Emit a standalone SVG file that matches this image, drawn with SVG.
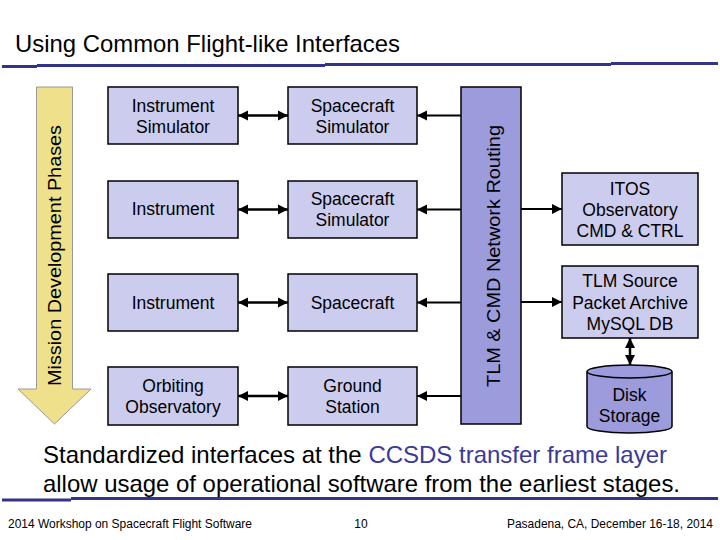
<svg xmlns="http://www.w3.org/2000/svg" width="720" height="540" viewBox="0 0 720 540">
<defs>
<style>
.t{font-family:"Liberation Sans",Arial,sans-serif;fill:#000}
.nt{font-size:17.5px;text-anchor:middle}
.box{fill:#CCCCEE;stroke:#000;stroke-width:1.5}
.dark{fill:#9C9CDD;stroke:#000;stroke-width:1.5}
.rule{fill:none;stroke:#333388;stroke-width:3}
.dbl{stroke:#000;stroke-width:2.5;fill:none;marker-start:url(#ah);marker-end:url(#ah)}
.one{stroke:#000;stroke-width:2;fill:none;marker-end:url(#ah)}
</style>
<marker id="ah" viewBox="0 0 10 10" refX="10" refY="5" markerWidth="10" markerHeight="11" markerUnits="userSpaceOnUse" orient="auto-start-reverse">
<path d="M0,0 L10,5 L0,10 Z" fill="#000"/>
</marker>
</defs>
<rect width="720" height="540" fill="#fff"/>

<g id="title">
<text class="t" x="15" y="52" font-size="24" textLength="385" lengthAdjust="spacingAndGlyphs">Using Common Flight-like Interfaces</text>
<path class="rule" d="M2,66.5 H37 M37,65.5 H325 M325,64.5 H611 M611,63.5 H718"/>
</g>

<g id="phases">
<path d="M36.5,87 L72.5,87 L72.5,389 L91,389 L54.5,424 L18,389 L36.5,389 Z" fill="#EFE08C" stroke="#999" stroke-width="1"/>
<text class="t" transform="translate(61,255.5) rotate(-90)" font-size="18" text-anchor="middle" textLength="261" lengthAdjust="spacingAndGlyphs">Mission Development Phases</text>
</g>

<g id="connectors">
<line class="dbl" x1="238" y1="115.5" x2="288" y2="115.5"/>
<line class="dbl" x1="238" y1="209.5" x2="288" y2="209.5"/>
<line class="dbl" x1="238" y1="302.5" x2="288" y2="302.5"/>
<line class="dbl" x1="238" y1="396" x2="288" y2="396"/>
<line class="one" x1="461" y1="115.5" x2="417" y2="115.5"/>
<line class="one" x1="461" y1="209.5" x2="417" y2="209.5"/>
<line class="one" x1="461" y1="302.5" x2="417" y2="302.5"/>
<line class="one" x1="461" y1="396" x2="417" y2="396"/>
<line class="one" x1="521" y1="209" x2="562" y2="209"/>
<line class="one" x1="521" y1="302" x2="562" y2="302"/>
<line class="dbl" x1="630" y1="338" x2="630" y2="365"/>
</g>

<g id="instrument-simulator">
<rect class="box" x="108" y="87" width="130" height="57"/>
<text class="t nt" x="173" y="112">Instrument</text>
<text class="t nt" x="173" y="133">Simulator</text>
</g>
<g id="spacecraft-simulator-1">
<rect class="box" x="288" y="87" width="129" height="57"/>
<text class="t nt" x="352.5" y="112">Spacecraft</text>
<text class="t nt" x="352.5" y="133">Simulator</text>
</g>
<g id="instrument-1">
<rect class="box" x="108" y="181" width="130" height="57"/>
<text class="t nt" x="173" y="215">Instrument</text>
</g>
<g id="spacecraft-simulator-2">
<rect class="box" x="288" y="181" width="129" height="57"/>
<text class="t nt" x="352.5" y="205">Spacecraft</text>
<text class="t nt" x="352.5" y="226">Simulator</text>
</g>
<g id="instrument-2">
<rect class="box" x="108" y="274" width="130" height="57"/>
<text class="t nt" x="173" y="309">Instrument</text>
</g>
<g id="spacecraft">
<rect class="box" x="288" y="274" width="129" height="57"/>
<text class="t nt" x="352.5" y="309">Spacecraft</text>
</g>
<g id="orbiting-observatory">
<rect class="box" x="108" y="367" width="130" height="58"/>
<text class="t nt" x="173" y="392">Orbiting</text>
<text class="t nt" x="173" y="413">Observatory</text>
</g>
<g id="ground-station">
<rect class="box" x="288" y="367" width="129" height="58"/>
<text class="t nt" x="352.5" y="392">Ground</text>
<text class="t nt" x="352.5" y="413">Station</text>
</g>

<g id="network-routing">
<rect class="dark" x="461" y="87" width="60" height="337"/>
<text class="t" transform="translate(500,256) rotate(-90)" font-size="18" text-anchor="middle" textLength="262" lengthAdjust="spacingAndGlyphs">TLM &amp; CMD Network Routing</text>
</g>

<g id="itos">
<rect class="box" x="562" y="173" width="136" height="72"/>
<text class="t nt" x="630" y="195">ITOS</text>
<text class="t nt" x="630" y="216">Observatory</text>
<text class="t nt" x="630" y="237">CMD &amp; CTRL</text>
</g>
<g id="tlm-archive">
<rect class="box" x="562" y="266" width="136" height="72"/>
<text class="t nt" x="630" y="287">TLM Source</text>
<text class="t nt" x="630" y="308.5">Packet Archive</text>
<text class="t nt" x="630" y="330">MySQL DB</text>
</g>
<g id="disk-storage">
<path class="dark" d="M587,371.5 V426.5 A42.5,6.5 0 0 0 672,426.5 V371.5"/>
<ellipse class="dark" cx="629.5" cy="371.5" rx="42.5" ry="6.5"/>
<text class="t nt" x="629.5" y="401">Disk</text>
<text class="t nt" x="629.5" y="422">Storage</text>
</g>

<g id="caption">
<text class="t" x="43" y="463" font-size="24" textLength="624" lengthAdjust="spacingAndGlyphs">Standardized interfaces at the <tspan fill="#3A3A99">CCSDS transfer frame layer</tspan></text>
<text class="t" x="43" y="492" font-size="24" textLength="637" lengthAdjust="spacingAndGlyphs">allow usage of operational software from the earliest stages.</text>
</g>

<g id="footer">
<path class="rule" d="M2,500 H71 M71,498.5 H718"/>
<text class="t" x="8" y="528" font-size="12" textLength="244" lengthAdjust="spacingAndGlyphs">2014 Workshop on Spacecraft Flight Software</text>
<text class="t" x="361" y="528" font-size="12" text-anchor="middle">10</text>
<text class="t" x="507" y="528" font-size="12" textLength="206" lengthAdjust="spacingAndGlyphs">Pasadena, CA, December 16-18, 2014</text>
</g>
</svg>
